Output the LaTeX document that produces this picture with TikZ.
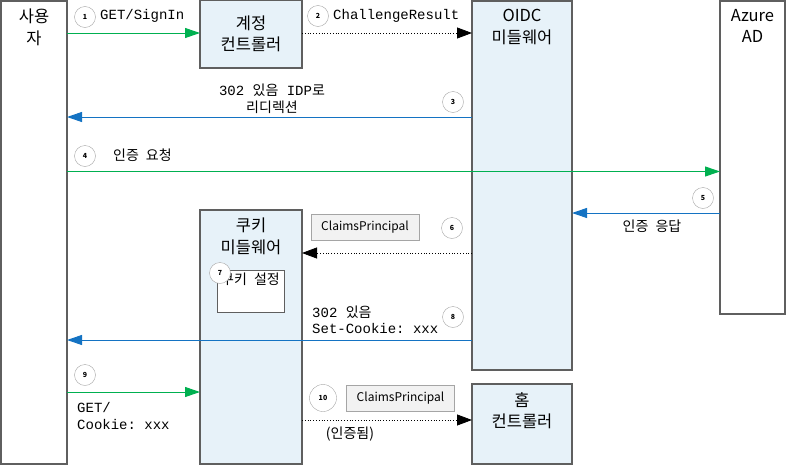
\documentclass[tikz,border=0pt]{standalone}
\usepackage{fontspec}
\setmainfont{Noto Sans CJK KR}
\setmonofont{Liberation Mono}
\usetikzlibrary{arrows.meta}
\definecolor{boxfill}{RGB}{231,242,249}
\definecolor{boxline}{RGB}{95,95,95}
\definecolor{reqgreen}{RGB}{0,176,80}
\definecolor{respblue}{RGB}{20,115,195}
\definecolor{tagfill}{RGB}{242,242,242}
\definecolor{tagline}{RGB}{165,165,165}
\newcommand{\kor}[1]{{\rmfamily #1}}
\newcommand{\widesp}{\spaceskip=0.5em\relax}

\begin{document}
\begin{tikzpicture}[
        x=1pt, y=-1pt,
        lane/.style = {shape=rectangle, draw=boxline, line width=1.2pt,
          inner sep=0pt, outer sep=0pt},
        actor/.style = {lane, fill=white},
        mw/.style = {lane, fill=boxfill},
        title/.style = {align=center, inner sep=0pt,
          font=\fontsize{16.5}{21.5}\selectfont},
        stepno/.style = {shape=circle, draw=gray!70, fill=white, minimum size=21pt,
          inner sep=0pt, font=\fontsize{7}{8}\selectfont\bfseries},
        tag/.style = {shape=rectangle, draw=tagline, fill=tagfill, line width=0.8pt,
          minimum width=108pt, minimum height=26pt, inner sep=0pt,
          font=\fontsize{12}{14}\selectfont},
        msg/.style = {inner sep=0pt, font=\ttfamily\fontsize{14}{17}\selectfont},
        note/.style = {inner sep=0pt, font=\fontsize{14}{16}\selectfont\widesp},
        req/.style = {draw=reqgreen, line width=1pt, -{Triangle[length=15pt,width=10pt]}},
        resp/.style = {draw=respblue, line width=1pt, -{Triangle[length=15pt,width=10pt]}},
        call/.style = {draw=black, dotted, line width=0.8pt, -{Triangle[length=15pt,width=11pt]}}
        ]
    \useasboundingbox (0,0) rectangle (787,466);

    \node[actor, minimum width=66pt, minimum height=463pt,
      label={[title, anchor=north, yshift=-8pt]north:사용\\자}] (user) at (34,232.5) {};
    \node[mw, minimum width=102pt, minimum height=68pt, title] (acct) at (251,34) {계정\\컨트롤러};
    \node[mw, minimum width=100pt, minimum height=369pt,
      label={[title, anchor=north, yshift=-8pt]north:OIDC\\미들웨어}] (oidc) at (522,185.5) {};
    \node[actor, minimum width=65pt, minimum height=313pt,
      label={[title, anchor=north, yshift=-8pt]north:Azure\\AD}] (azure) at (752.5,157.5) {};
    \node[mw, minimum width=102pt, minimum height=254pt,
      label={[title, anchor=north, yshift=-8pt]north:쿠키\\미들웨어}] (cookie) at (251,337) {};
    \node[actor, line width=0.8pt, minimum width=67pt, minimum height=42pt,
      label={[note, anchor=north, yshift=-3pt]north:쿠키 설정}] (setck) at (250.5,291) {};
    \node[mw, minimum width=100pt, minimum height=80pt,
      label={[title, anchor=north, yshift=-8pt]north:홈\\컨트롤러}] (home) at (522,424) {};

    \coordinate (lv1) at (0,33);
    \coordinate (lv3) at (0,117);
    \coordinate (lv4) at (0,171.5);
    \coordinate (lv5) at (0,213);
    \coordinate (lv6) at (0,253);
    \coordinate (lv8) at (0,340);
    \coordinate (lv9) at (0,392);
    \coordinate (lv10) at (0,420);

    \draw[req] (user.east |- lv1) -- (acct.west |- lv1);
    \draw[call] (acct.east |- lv1) -- (oidc.west |- lv1);
    \draw[resp] (oidc.west |- lv3) -- (user.east |- lv3);
    \draw[req] (user.east |- lv4) -- (azure.west |- lv4);
    \draw[resp] (azure.west |- lv5) -- (oidc.east |- lv5);
    \draw[call] (oidc.west |- lv6) -- (cookie.east |- lv6);
    \draw[resp] (oidc.west |- lv8) -- (user.east |- lv8);
    \draw[req] (user.east |- lv9) -- (cookie.west |- lv9);
    \draw[call] (cookie.east |- lv10) -- (home.west |- lv10);

    \node[msg, anchor=west] (m1) at (100,16) {GET/SignIn};
    \node[msg, anchor=west] (m2) at (333,16) {ChallengeResult};
    \node[msg, align=center] (m3) at (272,99) {302 \kor{있음} IDP\kor{로}\\\kor{리디렉션}};
    \node[note, anchor=west] (m4) at (113,155) {인증 요청};
    \node[note] (m5) at (652,226) {인증 응답};
    \node[tag] (t6) at (365,227.5) {ClaimsPrincipal};
    \node[msg, align=left, anchor=west, font=\ttfamily\fontsize{14}{16}\selectfont] (m8) at (312,320) {302 \kor{있음}\\Set-Cookie: xxx};
    \node[msg, align=left, anchor=west] (m9) at (77,415.5) {GET/\\Cookie: xxx};
    \node[tag] (t10) at (400.5,398) {ClaimsPrincipal};
    \node[note] (m10) at (350,434) {(인증됨)};

    \node[stepno] (c1) at (85,17) {1};
    \node[stepno] (c2) at (318,16) {2};
    \node[stepno] (c3) at (453,102) {3};
    \node[stepno] (c4) at (85,156) {4};
    \node[stepno] (c5) at (703,198) {5};
    \node[stepno] (c6) at (452,228) {6};
    \node[stepno] (c7) at (220,273) {7};
    \node[stepno] (c8) at (453,317) {8};
    \node[stepno] (c9) at (85,375) {9};
    \node[stepno, minimum size=27pt] (c10) at (323,398) {10};
\end{tikzpicture}
\end{document}
